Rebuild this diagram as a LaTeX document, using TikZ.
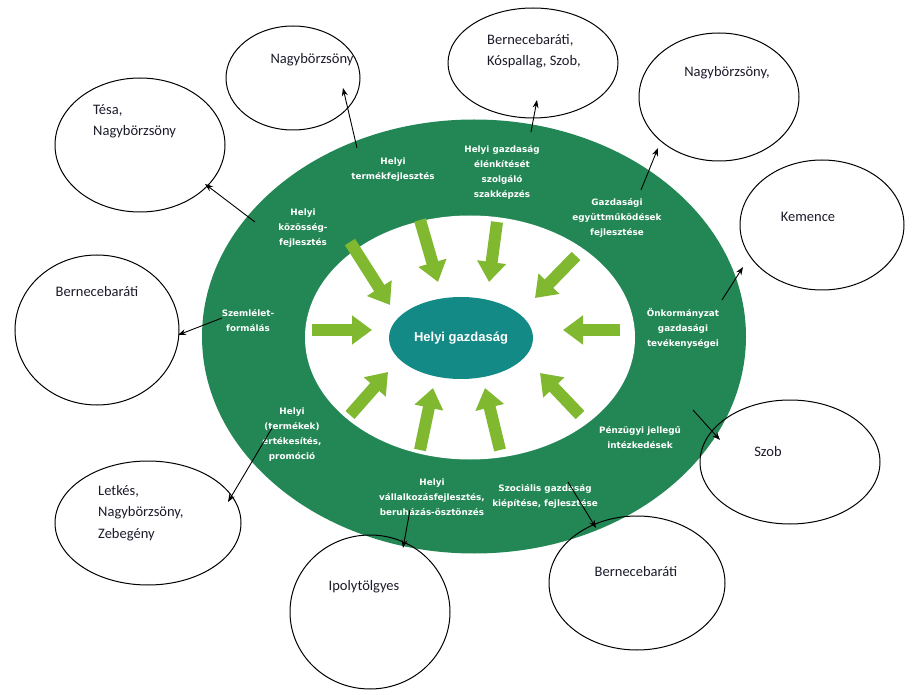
\documentclass[tikz,border=0pt]{standalone}
\usepackage{fontspec}
\setmainfont{Carlito}
\newfontfamily\ringfont{DejaVu Sans}
\newfontfamily\corefont{Liberation Sans}
\usetikzlibrary{arrows.meta,shapes.geometric}
\definecolor{ringgreen}{HTML}{238755}
\definecolor{arrowgreen}{HTML}{80B830}
\definecolor{coreteal}{HTML}{138A86}
\definecolor{txt}{HTML}{1B1B2B}
\begin{document}
\begin{tikzpicture}[x=1pt,y=-1pt,
 bubble/.style={draw=black, line width=1pt, ellipse, inner sep=0pt, outer sep=0pt},
 btext/.style={font=\fontsize{14.5}{21.5}\selectfont, text=txt, align=left, inner sep=0pt},
 rlabel/.style={font=\ringfont\bfseries\fontsize{8.8}{15}\selectfont, text=white, align=center, inner sep=0pt},
 garrow/.style={arrowgreen, line width=12pt, -{Triangle[width=28pt,length=20pt]}},
 karrow/.style={black, line width=0.9pt, -{Stealth[length=8pt,width=6pt]}},
]
\useasboundingbox (0,0) rectangle (914,695);
\fill[white] (0,0) rectangle (914,695);

% ring and core
\fill[ringgreen] (474,336.5) ellipse [x radius=272, y radius=217];
\fill[white] (470,337.5) ellipse [x radius=165, y radius=122];
\node[ellipse, fill=coreteal, minimum width=144pt, minimum height=82pt, inner sep=0pt,
      text=white, font=\corefont\bfseries\fontsize{13}{15}\selectfont] (core) at (461,338) {Helyi gazdaság};

% green arrows
\foreach \n/\ax/\ay/\bx/\by in {1/312/330/372/330, 2/350/242/390/305, 3/420/220/438/282,
  4/497/222/489/282, 5/576/256/535/298, 6/620/330/563/330, 7/580/415/540/373,
  8/500/450/485/388, 9/420/450/433/388, 10/350/415/388/372}{
  \coordinate (gs\n) at (\ax,\ay);
  \coordinate (ge\n) at (\bx,\by);
  \draw[garrow] (gs\n) -- (ge\n);
}

% ring labels
\node[rlabel] (l1) at (393,169.5) {Helyi\\termékfejlesztés};
\node[rlabel] (l2) at (502,172.5) {Helyi gazdaság\\élénkítését\\szolgáló\\szakképzés};
\node[rlabel] (l3) at (617,217.5) {Gazdasági\\együttműködések\\fejlesztése};
\node[rlabel] (l4) at (683,328) {Önkormányzat\\gazdasági\\tevékenységei};
\node[rlabel] (l5) at (640,437.5) {Pénzügyi jellegű\\intézkedések};
\node[rlabel] (l6) at (545,496) {Szociális gazdaság\\kiépítése, fejlesztése};
\node[rlabel] (l7) at (432,497.5) {Helyi\\vállalkozásfejlesztés,\\beruházás-ösztönzés};
\node[rlabel] (l8) at (292,435) {Helyi\\(termékek)\\értékesítés,\\promóció};
\node[rlabel] (l9) at (303,228.5) {Helyi\\közösség-\\fejlesztés};
\node[rlabel] (l10) at (248,320.5) {Szemlélet-\\formálás};

% bubbles
\node[bubble, minimum width=134pt, minimum height=104pt] (c1) at (293,78) {};
\node[bubble, minimum width=170pt, minimum height=110pt] (c2) at (533,63) {};
\node[bubble, minimum width=160pt, minimum height=128pt] (c3) at (719,97) {};
\node[bubble, minimum width=164pt, minimum height=130pt] (c4) at (822,225) {};
\node[bubble, minimum width=180pt, minimum height=124pt] (c5) at (790,462) {};
\node[bubble, minimum width=176pt, minimum height=134pt] (c6) at (637,583) {};
\node[bubble, minimum width=160pt, minimum height=154pt] (c7) at (370,612) {};
\node[bubble, minimum width=186pt, minimum height=124pt] (c8) at (148,523) {};
\node[bubble, minimum width=164pt, minimum height=150pt] (c9) at (97,330) {};
\node[bubble, minimum width=170pt, minimum height=134pt] (c10) at (140,145) {};

% bubble texts
\node[btext] (t1) at (312,60) {Nagybörzsöny};
\node[btext, anchor=north west] (t2) at (487,34) {Bernecebaráti,\\Kóspallag, Szob,};
\node[btext] (t3) at (727,73) {Nagybörzsöny,};
\node[btext] (t4) at (808,217) {Kemence};
\node[btext] (t5) at (768,452) {Szob};
\node[btext] (t6) at (636,572) {Bernecebaráti};
\node[btext] (t7) at (364,587) {Ipolytölgyes};
\node[btext, anchor=north west] (t8) at (98,485) {Letkés,\\Nagybörzsöny,\\Zebegény};
\node[btext] (t9) at (97,292) {Bernecebaráti};
\node[btext, anchor=north west] (t10) at (93,104) {Tésa,\\Nagybörzsöny};

% black connectors
\foreach \n/\ax/\ay/\bx/\by in {a/357/148/343/88, b/531/132/537/100, c/641/190/658/148,
  d/722/300/743/267, e/693/410/720/440, f/568/482/596/528, g/410/510/403/548,
  h/272/428/228/502, i/222/318/178/335, j/255/222/205/184}{
  \coordinate (ks\n) at (\ax,\ay);
  \coordinate (ke\n) at (\bx,\by);
  \draw[karrow] (ks\n) -- (ke\n);
}
\end{tikzpicture}
\end{document}
